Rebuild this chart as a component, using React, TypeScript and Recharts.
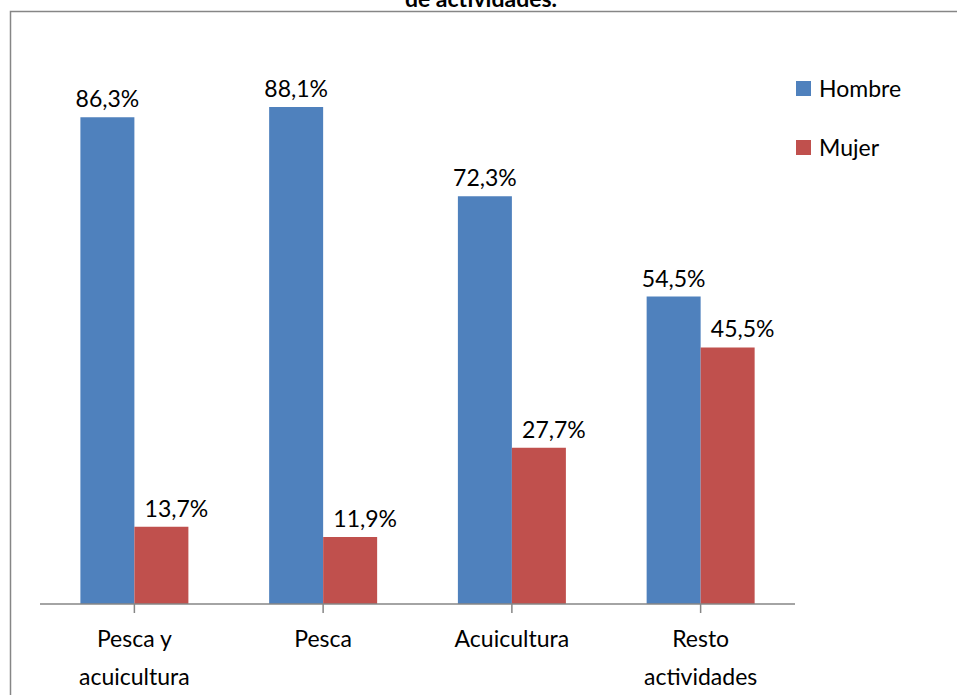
import React from "react";
import { BarChart, Bar, XAxis, YAxis, Legend, LabelList } from "recharts";

const categories = ["Pesca y\nacuicultura", "Pesca", "Acuicultura", "Resto\nactividades"];
const hombre = [86.3, 88.1, 72.3, 54.5];
const mujer = [13.7, 11.9, 27.7, 45.5];
const seriesNames = ["Hombre", "Mujer"];
const titleText = "de actividades.";

const COLORS = ["#4F81BD", "#C0504D"];
const FONT = "Lato, 'Open Sans', sans-serif";

const data = categories.map((c, i) => ({ name: c, hombre: hombre[i], mujer: mujer[i] }));

const fmt = (v: number) => v.toFixed(1).replace(".", ",") + "%";

const makeLabel = (dx: number) => (props: any) => {
  const { x, y, width, value } = props;
  return (
    <text
      x={Number(x) + Number(width) / 2 + dx}
      y={Number(y) - 10}
      textAnchor="middle"
      fontFamily={FONT}
      fontSize={23}
      fill="#000"
    >
      {fmt(Number(value))}
    </text>
  );
};

const Tick = (props: any) => {
  const { x, y, payload } = props;
  const lines = String(payload.value).split("\n");
  return (
    <g>
      {lines.map((l: string, i: number) => (
        <text
          key={i}
          x={x}
          y={y + 32 + i * 38}
          textAnchor="middle"
          fontFamily={FONT}
          fontSize={23}
          fill="#000"
        >
          {l}
        </text>
      ))}
    </g>
  );
};

const LegendContent = () => (
  <div style={{ fontFamily: FONT, fontSize: 23, color: "#000" }}>
    {seriesNames.map((n, i) => (
      <div key={n} style={{ display: "flex", alignItems: "center", height: 30, marginBottom: i === 0 ? 29 : 0 }}>
        <div style={{ width: 15, height: 15, background: COLORS[i], marginRight: 8 }} />
        <span>{n}</span>
      </div>
    ))}
  </div>
);

export default function App() {
  return (
    <div style={{ position: "absolute", left: 0, top: 0, width: 957, height: 695, background: "#fff", overflow: "hidden" }}>
      <BarChart
        width={957}
        height={695}
        data={data}
        margin={{ top: 40, right: 22, left: 40, bottom: 0 }}
        barCategoryGap="21.4%"
        barGap={0}
      >
        <YAxis hide domain={[0, 100]} />
        <XAxis
          dataKey="name"
          height={91}
          interval={0}
          tick={<Tick />}
          tickSize={9}
          axisLine={{ stroke: "#868686", strokeWidth: 1.5 }}
          tickLine={{ stroke: "#868686", strokeWidth: 1.5 }}
        />
        <Legend
          layout="vertical"
          align="right"
          verticalAlign="top"
          content={<LegendContent />}
          wrapperStyle={{ position: "absolute", left: 796, top: 73, width: 140 }}
        />
        <Bar dataKey="hombre" name={seriesNames[0]} fill={COLORS[0]} isAnimationActive={false}>
          <LabelList dataKey="hombre" content={makeLabel(0)} />
        </Bar>
        <Bar dataKey="mujer" name={seriesNames[1]} fill={COLORS[1]} isAnimationActive={false}>
          <LabelList dataKey="mujer" content={makeLabel(15)} />
        </Bar>
      </BarChart>
      <svg width={957} height={695} style={{ position: "absolute", left: 0, top: 0, pointerEvents: "none" }}>
        <rect x={10.5} y={11.5} width={960} height={700} fill="none" stroke="#868686" strokeWidth={1.5} />
        <text x={481} y={7} textAnchor="middle" fontFamily={FONT} fontWeight="bold" fontSize={23} fill="#000">
          {titleText}
        </text>
      </svg>
    </div>
  );
}
